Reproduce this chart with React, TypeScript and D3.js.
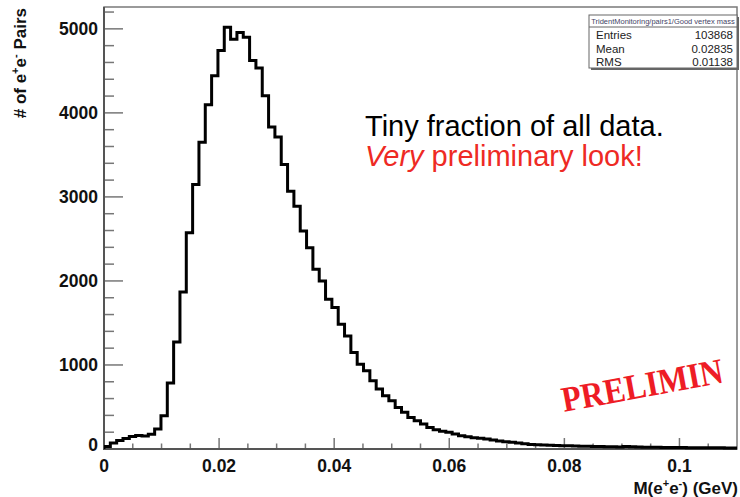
import React, { useRef, useEffect } from 'react';
import * as d3 from 'd3';

// bin contents, 100 bins from 0 to 0.11 GeV
const counts = [
  30, 70, 100, 125, 150, 162, 156, 176, 238, 396,
  784, 1274, 1868, 2573, 3147, 3650, 4097, 4442, 4743, 5020,
  4877, 4956, 4901, 4624, 4533, 4204, 3832, 3714, 3385, 3068,
  2890, 2593, 2395, 2138, 1999, 1781, 1683, 1485, 1346, 1148,
  1010, 930, 811, 713, 633, 574, 495, 436, 376, 337,
  297, 257, 230, 210, 198, 178, 158, 146, 135, 127,
  119, 107, 95, 87, 79, 71, 63, 55, 52, 48,
  44, 42, 40, 38, 36, 34, 32, 30, 29, 27,
  26, 25, 30, 26, 23, 22, 21, 20, 19, 18,
  18, 17, 16, 16, 15, 15, 14, 14, 13, 13,
];
const xMin = 0;
const xMax = 0.11;
const yMax = 5260;
const xTicks = [0, 0.02, 0.04, 0.06, 0.08, 0.1];
const xTickLabels = ['0', '0.02', '0.04', '0.06', '0.08', '0.1'];
const yTicks = [0, 1000, 2000, 3000, 4000, 5000];
const statsTitle = 'TridentMonitoring/pairs1/Good vertex mass';
const statsRows = [['Entries', '103868'], ['Mean', '0.02835'], ['RMS', '0.01138']];

const App = () => {
  const svgRef = useRef(null);
  const width = 740;
  const height = 497;

  useEffect(() => {
    const svg = d3.select(svgRef.current);
    svg.selectAll('*').remove();
    const frame = { left: 104, right: 737, top: 7, bottom: 449 };
    const font = 'Liberation Sans, Arial, Helvetica, sans-serif';

    const x = d3.scaleLinear().domain([xMin, xMax]).range([frame.left, frame.right]);
    const y = d3.scaleLinear().domain([0, yMax]).range([frame.bottom, frame.top]);

    svg.append('rect').attr('width', width).attr('height', height).attr('fill', '#fff');

    // frame
    svg.append('rect')
      .attr('x', frame.left).attr('y', frame.top)
      .attr('width', frame.right - frame.left).attr('height', frame.bottom - frame.top)
      .attr('fill', 'none').attr('stroke', '#7a7a7a').attr('stroke-width', 1.5);

    // y ticks (minor every 200)
    const yMinor = d3.range(0, yMax, 200);
    svg.append('g').selectAll('line').data(yMinor).join('line')
      .attr('x1', frame.left).attr('x2', d => frame.left + (d % 1000 === 0 ? 19 : 10))
      .attr('y1', d => y(d)).attr('y2', d => y(d))
      .attr('stroke', '#777').attr('stroke-width', 1.5);

    // x ticks (minor every 0.005)
    const xMinor = d3.range(0, 22).map(i => i * 0.005);
    svg.append('g').selectAll('line').data(xMinor).join('line')
      .attr('x1', d => x(d)).attr('x2', d => x(d))
      .attr('y1', frame.bottom).attr('y2', (d, i) => frame.bottom - (i % 4 === 0 ? 11 : 5.5))
      .attr('stroke', '#777').attr('stroke-width', 1.5);

    // axis lines
    svg.append('line').attr('x1', frame.left).attr('x2', frame.left)
      .attr('y1', frame.top).attr('y2', frame.bottom + 1)
      .attr('stroke', '#555').attr('stroke-width', 2);
    svg.append('line').attr('x1', frame.left).attr('x2', frame.right)
      .attr('y1', frame.bottom).attr('y2', frame.bottom)
      .attr('stroke', '#555').attr('stroke-width', 2);

    // tick labels
    svg.append('g').selectAll('text').data(yTicks).join('text')
      .attr('x', 98).attr('y', d => y(d) + (d === 0 ? 2 : 6))
      .attr('text-anchor', 'end').attr('font-family', font).attr('font-weight', 'bold')
      .attr('font-size', 17.5).attr('fill', '#111')
      .text(d => String(d));
    svg.append('g').selectAll('text').data(xTicks).join('text')
      .attr('x', d => x(d)).attr('y', 472)
      .attr('text-anchor', 'middle').attr('font-family', font).attr('font-weight', 'bold')
      .attr('font-size', 17.5).attr('fill', '#111')
      .text((d, i) => xTickLabels[i]);

    // axis titles
    const xt = svg.append('text').attr('x', 738).attr('y', 494)
      .attr('text-anchor', 'end').attr('font-family', font).attr('font-weight', 'bold')
      .attr('font-size', 17).attr('fill', '#111');
    xt.append('tspan').text('M(e');
    xt.append('tspan').attr('font-size', 11).attr('dy', -7).text('+');
    xt.append('tspan').attr('dy', 7).text('e');
    xt.append('tspan').attr('font-size', 11).attr('dy', -7).text('-');
    xt.append('tspan').attr('dy', 7).text(') (GeV)');

    const yt = svg.append('text').attr('transform', 'translate(26,8) rotate(-90)')
      .attr('text-anchor', 'end').attr('font-family', font).attr('font-weight', 'bold')
      .attr('font-size', 17).attr('fill', '#111');
    yt.append('tspan').text('# of e');
    yt.append('tspan').attr('font-size', 11).attr('dy', -7).text('+');
    yt.append('tspan').attr('dy', 7).text('e');
    yt.append('tspan').attr('font-size', 11).attr('dy', -7).text('-');
    yt.append('tspan').attr('dy', 7).text(' Pairs');

    // histogram
    const binW = (xMax - xMin) / counts.length;
    const pts = [[xMin, 0], ...counts.map((c, i) => [xMin + i * binW, c]), [xMax, counts[counts.length - 1]]];
    svg.append('clipPath').attr('id', 'plotclip').append('rect')
      .attr('x', frame.left).attr('y', frame.top)
      .attr('width', frame.right - frame.left).attr('height', frame.bottom - frame.top + 2);
    svg.append('path')
      .attr('clip-path', 'url(#plotclip)')
      .attr('d', d3.line().x(d => x(d[0])).y(d => y(d[1])).curve(d3.curveStepAfter)(pts))
      .attr('fill', 'none').attr('stroke', '#000').attr('stroke-width', 3);

    // stats box
    const sb = { x: 589, y: 15, w: 148, h: 53 };
    svg.append('rect').attr('x', sb.x + 2).attr('y', sb.y + 2).attr('width', sb.w).attr('height', sb.h)
      .attr('fill', '#666');
    svg.append('rect').attr('x', sb.x).attr('y', sb.y).attr('width', sb.w).attr('height', sb.h)
      .attr('fill', '#fff').attr('stroke', '#666').attr('stroke-width', 1);
    svg.append('line').attr('x1', sb.x).attr('x2', sb.x + sb.w)
      .attr('y1', sb.y + 12).attr('y2', sb.y + 12).attr('stroke', '#666');
    svg.append('text').attr('x', sb.x + sb.w / 2).attr('y', sb.y + 9)
      .attr('text-anchor', 'middle').attr('font-family', font).attr('font-size', 7.5)
      .attr('fill', '#446').text(statsTitle);
    statsRows.forEach((r, i) => {
      const ty = sb.y + 24 + i * 13.5;
      svg.append('text').attr('x', sb.x + 7).attr('y', ty)
        .attr('font-family', font).attr('font-size', 11.5).attr('fill', '#222').text(r[0]);
      svg.append('text').attr('x', sb.x + sb.w - 4).attr('y', ty).attr('text-anchor', 'end')
        .attr('font-family', font).attr('font-size', 11.5).attr('fill', '#222').text(r[1]);
    });

    // annotations
    svg.append('text').attr('x', 365).attr('y', 136)
      .attr('font-family', font).attr('font-size', 29).attr('fill', '#000')
      .text('Tiny fraction of all data.');
    const note = svg.append('text').attr('x', 365).attr('y', 166)
      .attr('font-family', font).attr('font-size', 29).attr('fill', '#ee2a24');
    note.append('tspan').attr('font-style', 'italic').text('Very');
    note.append('tspan').text(' preliminary look!');

    svg.append('text').attr('transform', 'translate(564,412) rotate(-10.5) scale(1,1.12)')
      .attr('font-family', 'Liberation Serif, DejaVu Serif, serif').attr('font-weight', 'bold')
      .attr('font-size', 32).attr('fill', '#ee1c25')
      .text('PRELIMIN');
  }, []);

  return (
    <svg ref={svgRef} width={width} height={height}
      style={{ position: 'absolute', left: 0, top: 0, display: 'block' }} />
  );
};

export default App;
